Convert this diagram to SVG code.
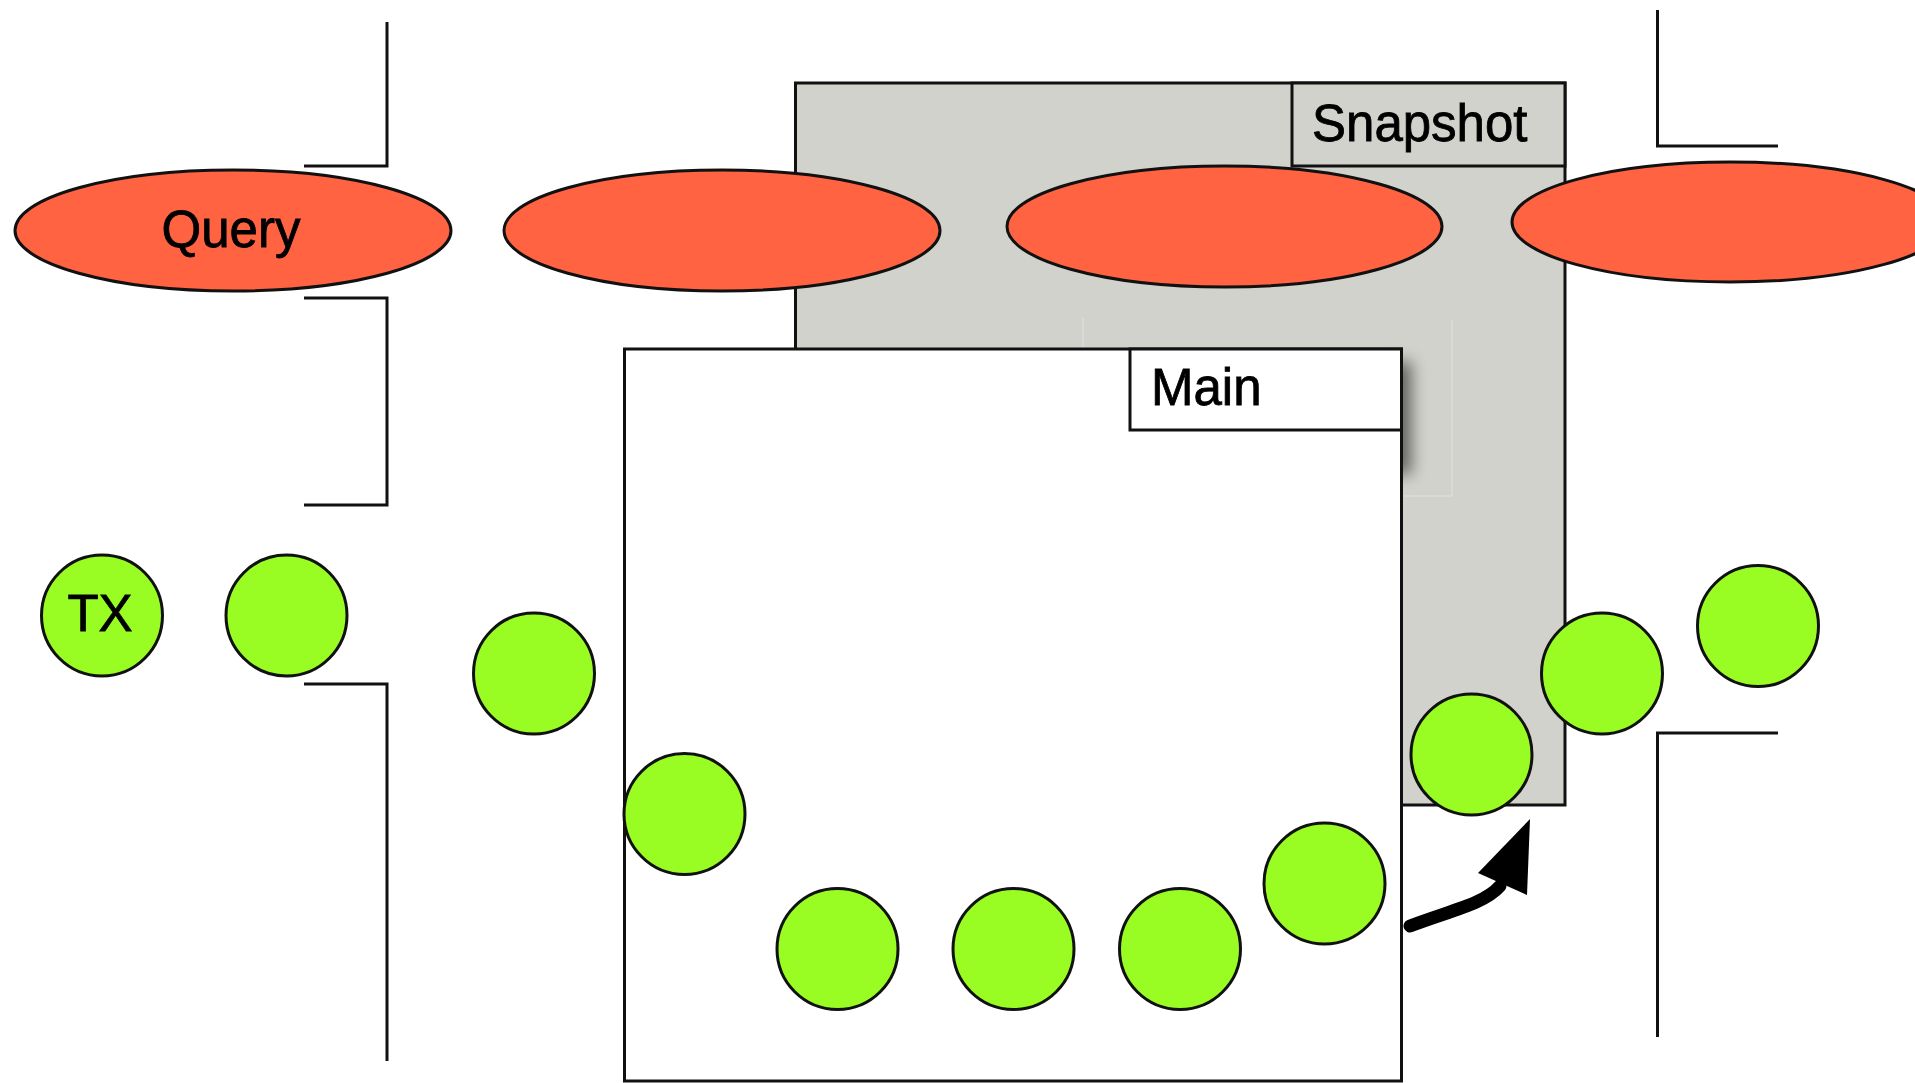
<svg xmlns="http://www.w3.org/2000/svg" width="1915" height="1083" viewBox="0 0 1915 1083">
  <style>
    .line { fill: none; stroke: #111; stroke-width: 3; }
    .query { fill: #ff6342; stroke: #111; stroke-width: 3; }
    .tx { fill: #99fc22; stroke: #111; stroke-width: 3; }
    .box { stroke: #111; stroke-width: 3; }
    .label { font-family: "Liberation Sans", Arial, sans-serif; font-size: 51px; fill: #000; stroke: #000; stroke-width: 0.8; }
  </style>
  <defs>
    <filter id="soft" x="-100%" y="-50%" width="300%" height="200%">
      <feGaussianBlur stdDeviation="8"/>
    </filter>
  </defs>
  <rect width="1915" height="1083" fill="#fff"/>

  <!-- snapshot region -->
  <g id="snapshot">
    <rect class="box" x="795.5" y="83" width="769.5" height="722" fill="#d2d2cc"/>
    <rect class="box" x="1292" y="83" width="273" height="83" fill="#d2d2cc"/>
    <text class="label" x="1312" y="141">Snapshot</text>
  </g>

  <!-- bracket marks -->
  <g id="brackets">
    <path class="line" d="M304,166 H387 V22"/>
    <path class="line" d="M304,298 H387 V505 H304"/>
    <path class="line" d="M304,684 H387 V1061"/>
    <path class="line" d="M1778,146 H1657.5 V10"/>
    <path class="line" d="M1778,733 H1657.5 V1037"/>
  </g>

  <!-- queries -->
  <g id="query1">
    <ellipse class="query" cx="233" cy="230.5" rx="218" ry="60.5"/>
    <text class="label" x="231" y="247" text-anchor="middle">Query</text>
  </g>
  <g id="query2"><ellipse class="query" cx="722" cy="230.5" rx="218" ry="60.5"/></g>
  <g id="query3"><ellipse class="query" cx="1224.5" cy="226.5" rx="217.5" ry="60.5"/></g>
  <g id="query4"><ellipse class="query" cx="1730" cy="222" rx="218" ry="60"/></g>

  <!-- soft shadow and guide edges under the main region -->
  <g id="main-shadow">
    <path d="M1083,318 V349 M1452,320 V496 H1401" fill="none" stroke="#dddcd7" stroke-width="1.5"/>
    <rect x="1385" y="362" width="26" height="112" fill="#000" opacity="0.55" filter="url(#soft)"/>
  </g>

  <!-- main region -->
  <g id="main">
    <rect class="box" x="624.5" y="349" width="777" height="732" fill="#fff"/>
    <rect class="box" x="1130" y="349" width="271.5" height="81" fill="#fff"/>
    <text class="label" x="1151" y="405">Main</text>
  </g>

  <!-- transactions -->
  <g id="tx1">
    <circle class="tx" cx="102" cy="615.5" r="60.5"/>
    <text class="label" x="100" y="630.5" text-anchor="middle">TX</text>
  </g>
  <g id="tx2"><circle class="tx" cx="286.5" cy="615.5" r="60.5"/></g>
  <g id="tx3"><circle class="tx" cx="534" cy="673.5" r="60.5"/></g>
  <g id="tx4"><circle class="tx" cx="684.5" cy="814" r="60.5"/></g>
  <g id="tx5"><circle class="tx" cx="837.5" cy="949" r="60.5"/></g>
  <g id="tx6"><circle class="tx" cx="1013.5" cy="949" r="60.5"/></g>
  <g id="tx7"><circle class="tx" cx="1180" cy="949" r="60.5"/></g>
  <g id="tx8"><circle class="tx" cx="1324.5" cy="883.5" r="60.5"/></g>
  <g id="tx9"><circle class="tx" cx="1471.5" cy="754.5" r="60.5"/></g>
  <g id="tx10"><circle class="tx" cx="1602" cy="673.5" r="60.5"/></g>
  <g id="tx11"><circle class="tx" cx="1758" cy="626" r="60.5"/></g>

  <!-- connectors -->
  <g id="connectors">
    <path d="M1410,926 C1452,910 1484,904 1500,886" fill="none" stroke="#000" stroke-width="13" stroke-linecap="round"/>
    <polygon points="1530,819 1478,873 1527,895" fill="#000"/>
  </g>
</svg>
